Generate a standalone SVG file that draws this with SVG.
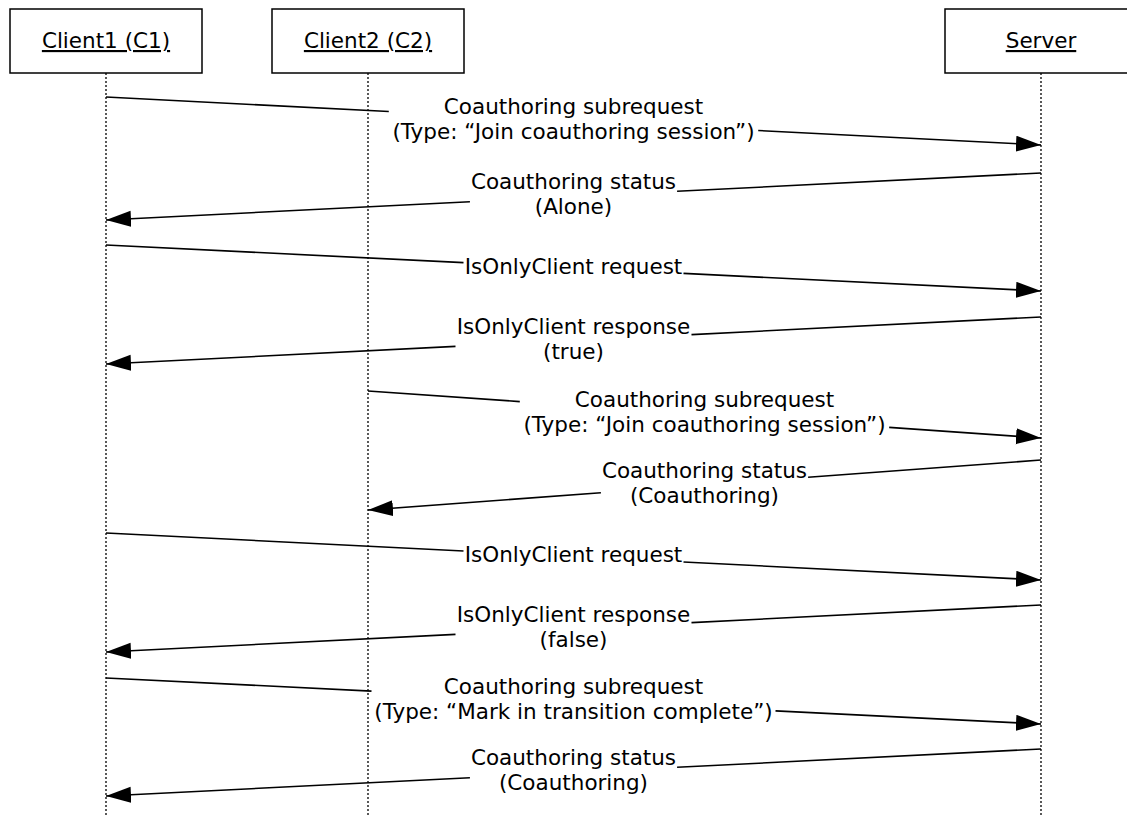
<svg xmlns="http://www.w3.org/2000/svg" width="1127" height="817" viewBox="0 0 1127 817">
<style>
.box{fill:#fff;stroke:#000;stroke-width:1.5}
.life{stroke:#000;stroke-width:1.3;stroke-dasharray:2 2;fill:none}
.hdr{font-family:"DejaVu Sans",Verdana,sans-serif;font-size:21.5px;fill:#000;text-anchor:middle;text-decoration:underline}
.lbl{font-family:"DejaVu Sans",Verdana,sans-serif;font-size:21.5px;fill:#000;text-anchor:middle}
.msg{stroke:#000;stroke-width:1.6;fill:none}
</style>
<defs>
<marker id="arr" markerUnits="userSpaceOnUse" markerWidth="26" markerHeight="17" refX="25" refY="8" orient="auto" viewBox="0 0 26 17">
<path d="M0,0 L25,8 L0,16 Z" fill="#000"/>
</marker>
</defs>
<rect width="1127" height="817" fill="#fff"/>
<g id="client1">
<rect class="box" x="10" y="9" width="192" height="64"/>
<text class="hdr" x="106" y="48">Client1 (C1)</text>
<line class="life" x1="106" y1="73" x2="106" y2="817"/>
</g>
<g id="client2">
<rect class="box" x="272" y="9" width="192" height="64"/>
<text class="hdr" x="368" y="48">Client2 (C2)</text>
<line class="life" x1="368" y1="73" x2="368" y2="817"/>
</g>
<g id="server">
<rect class="box" x="945" y="9" width="192" height="64"/>
<text class="hdr" x="1041" y="48">Server</text>
<line class="life" x1="1041" y1="73" x2="1041" y2="817"/>
</g>
<g id="connectors">
<g id="m1">
<line class="msg" x1="106" y1="97" x2="388.8" y2="111.5"/>
<line class="msg" x1="758.2" y1="130.5" x2="1041" y2="145" marker-end="url(#arr)"/>
<text class="lbl" x="573.5" y="113.5">Coauthoring subrequest<tspan x="573.5" dy="25.2">(Type: “Join coauthoring session”)</tspan></text>
</g>
<g id="m2">
<line class="msg" x1="1041" y1="173" x2="677.1" y2="191.3"/>
<line class="msg" x1="469.9" y1="201.7" x2="106" y2="220" marker-end="url(#arr)"/>
<text class="lbl" x="573.5" y="189">Coauthoring status<tspan x="573.5" dy="25.2">(Alone)</tspan></text>
</g>
<g id="m3">
<line class="msg" x1="106" y1="245" x2="463.5" y2="262.6"/>
<line class="msg" x1="683.5" y1="273.4" x2="1041" y2="291" marker-end="url(#arr)"/>
<text class="lbl" x="573.5" y="273.5">IsOnlyClient request</text>
</g>
<g id="m4">
<line class="msg" x1="1041" y1="317" x2="691.5" y2="334.6"/>
<line class="msg" x1="455.5" y1="346.4" x2="106" y2="364" marker-end="url(#arr)"/>
<text class="lbl" x="573.5" y="333.5">IsOnlyClient response<tspan x="573.5" dy="25.2">(true)</tspan></text>
</g>
<g id="m5">
<line class="msg" x1="368" y1="391" x2="519.8" y2="401.6"/>
<line class="msg" x1="889.2" y1="427.4" x2="1041" y2="438" marker-end="url(#arr)"/>
<text class="lbl" x="704.5" y="407">Coauthoring subrequest<tspan x="704.5" dy="25.2">(Type: “Join coauthoring session”)</tspan></text>
</g>
<g id="m6">
<line class="msg" x1="1041" y1="460" x2="808.1" y2="477.3"/>
<line class="msg" x1="600.9" y1="492.7" x2="368" y2="510" marker-end="url(#arr)"/>
<text class="lbl" x="704.5" y="477.5">Coauthoring status<tspan x="704.5" dy="25.2">(Coauthoring)</tspan></text>
</g>
<g id="m7">
<line class="msg" x1="106" y1="533" x2="463.5" y2="551"/>
<line class="msg" x1="683.5" y1="562" x2="1041" y2="580" marker-end="url(#arr)"/>
<text class="lbl" x="573.5" y="562">IsOnlyClient request</text>
</g>
<g id="m8">
<line class="msg" x1="1041" y1="605" x2="691.5" y2="622.6"/>
<line class="msg" x1="455.5" y1="634.4" x2="106" y2="652" marker-end="url(#arr)"/>
<text class="lbl" x="573.5" y="621.5">IsOnlyClient response<tspan x="573.5" dy="25.2">(false)</tspan></text>
</g>
<g id="m9">
<line class="msg" x1="106" y1="678" x2="371.5" y2="691.1"/>
<line class="msg" x1="775.5" y1="710.9" x2="1041" y2="724" marker-end="url(#arr)"/>
<text class="lbl" x="573.5" y="693.5">Coauthoring subrequest<tspan x="573.5" dy="25.2">(Type: “Mark in transition complete”)</tspan></text>
</g>
<g id="m10">
<line class="msg" x1="1041" y1="749" x2="677.1" y2="767.3"/>
<line class="msg" x1="469.9" y1="777.7" x2="106" y2="796" marker-end="url(#arr)"/>
<text class="lbl" x="573.5" y="765">Coauthoring status<tspan x="573.5" dy="25.2">(Coauthoring)</tspan></text>
</g>
</g>
</svg>
